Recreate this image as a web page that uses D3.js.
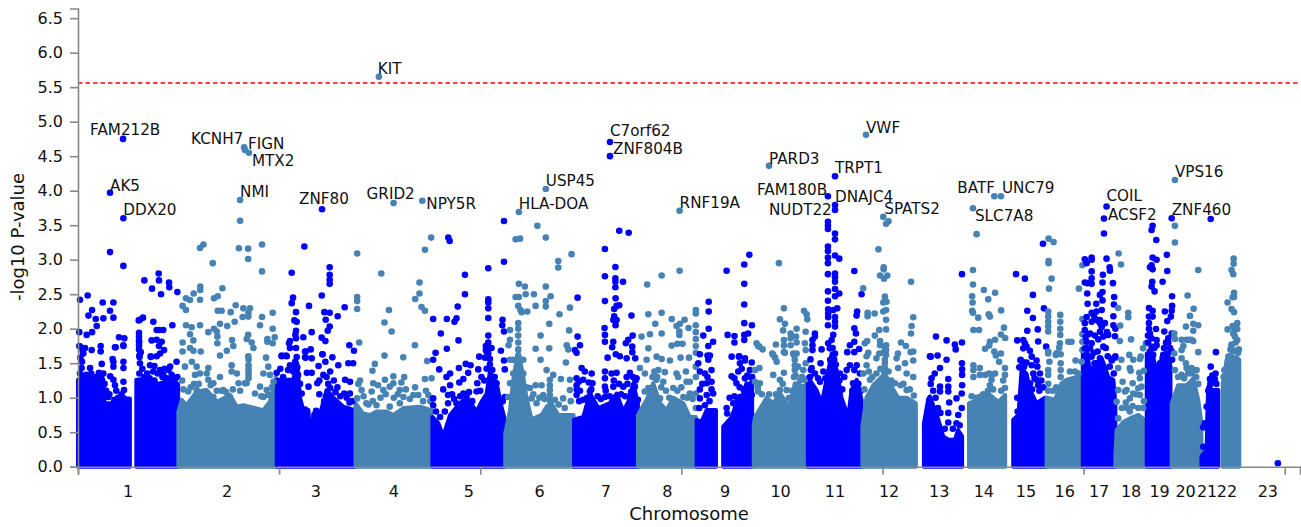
<!DOCTYPE html>
<html>
<head>
<meta charset="utf-8">
<script src="https://cdn.jsdelivr.net/npm/d3@7"></script>
<style>
  body { margin: 0; background: #fff; }
  text { font-family: "DejaVu Sans", sans-serif; fill: #111; }
</style>
</head>
<body>
<svg id="chart"></svg>
<script>
const chrNames = ['1','2','3','4','5','6','7','8','9','10','11','12','13','14','15','16','17','18','19','20','21','22','23'];
// cumulative end of every chromosome, Mb
const chrEnds = [249,492,690,881,1062,1233,1392,1538,1679,1814.5,1949.5,2083.5,2198.5,2305.5,2408,2498,2579,2657,2721,2786,2828,2885,3031];
const xTicks = [0,500,1000,1500,2000,2500,3000];
const yTicks = [0,0.5,1,1.5,2,2.5,3,3.5,4,4.5,5,5.5,6,6.5];
const threshold = 5.56;

// named hits
const geneNames = ['KIT','FAM212B','AK5','DDX20','KCNH7','FIGN','MTX2','NMI','ZNF80','GRID2','NPY5R','USP45','HLA-DOA','C7orf62','ZNF804B','RNF19A','PARD3','TRPT1','FAM180B','DNAJC4','NUDT22','VWF','SPATS2','BATF','UNC79','SLC7A8','COIL','ACSF2','VPS16','ZNF460'];
const genePos = [748,112,79.6,112.8,413,415,425,403,606.6,784.6,856,1163,1096,1322.6,1322.6,1495.6,1718,1882,1864.4,1882,1882,1959,2002,2278,2294.5,2225,2557,2550.6,2727,2719];
const geneP = [5.65,4.75,3.97,3.6,4.63,4.59,4.55,3.865,3.73,3.82,3.855,4.025,3.69,4.705,4.5,3.71,4.36,4.21,3.92,3.79,3.72,4.81,3.62,3.92,3.92,3.745,3.77,3.595,4.155,3.6];
const labelDx = [-1,-33,0,0,-53,3,3,0,-23,-27,4,0,0,0,3,0,0,0,-71,0,-66,0,1,-37,1,2,0,4,0,0];
const labelDy = [-3,-4,-2,-3,-3,-1,13,-3,-5,-4,8,-3,-3,-6,-2,-3,-2,-3,-1,-3,5,-2,-3,-3,-3,13,-6,1,-3,-3];

const chr1Snps = [[79.6,3.11],[112.8,2.91],[5,2.42],[24,2.48],[35,2.27],[26,2.19],[61.4,2.38],[88,2.38],[79.6,2.26],[88,2.16],[63,2.15],[44,2.14],[46.5,2.04],[35,1.95],[21.6,1.91],[3.4,1.95],[3.4,1.75],[17.5,1.72],[11.7,1.67],[34,1.69],[56.4,1.75],[56.4,1.67],[102,1.875],[115.2,1.86],[93.7,1.73],[112.8,1.76],[165,2.7],[200.6,2.8],[201.4,2.7],[184,2.58],[206.4,2.5],[226.3,2.67],[227,2.6],[247,2.53],[161.6,2.16],[151,2.12],[154,2.13],[187.3,2.1],[234.6,2.05],[195.6,1.98],[212,1.98],[202,1.98],[151.7,1.94],[151.7,1.885],[151.7,1.83],[151.7,1.76],[151.7,1.7],[183,1.83],[195.6,1.84],[208,1.81],[201.4,1.75],[214,1.69],[204,1.64],[152.5,1.61],[180.7,1.6],[195.6,1.6],[86,1.56],[5,1.74],[13.3,1.64],[92,1.73],[113,1.75],[9,1.43],[30,1.43],[59,1.49],[88,1.52],[88,1.45],[113,1.52],[113,1.43],[22,1.3],[63,1.35],[80,1.31],[88,1.26],[113,1.23],[92,1.18],[75.5,1.01],[114.4,1.11],[113,0.99],[153,1.59],[154,1.5],[152.5,1.35],[179,1.47],[181,1.59],[245,1.52],[229,1.45],[204,1.4],[187,1.38],[233,1.33],[212,1.33],[167,1.26],[5,1.35],[12,1.3],[20,1.33],[33,1.35],[45,1.3],[52,1.36],[58,1.28],[66,1.2],[70,1.1],[78,1.05],[95,1.1],[100,1],[108,1.05],[152,1.15],[153,1.05],[155,1.25],[160,1.42],[165,1.3],[172,1.35],[178,1.28],[190,1.25],[198,1.35],[210,1.3],[220,1.28],[225,1.4],[240,1.25],[247,1.3],[6,1.58],[10,1.52],[152,1.8],[156,1.66],[190,1.46],[215,1.42]];
const chr2Snps = [[403,3.565],[400,3.165],[423,3.16],[423,3.01],[457.5,3.22],[457.5,2.83],[312,3.22],[303.4,3.17],[335,2.95],[359,2.585],[304,2.61],[304,2.56],[303.4,2.42],[287.6,2.51],[268.5,2.44],[278.5,2.415],[260,2.33],[268.5,2.27],[338,2.44],[347.3,2.47],[392,2.34],[347.3,2.26],[357,2.26],[379.6,2.24],[411,2.295],[427.6,2.295],[423.5,2.23],[409.4,2.17],[423.5,2.175],[457.5,2.17],[484,2.23],[389.5,2.1],[353,2.07],[268.5,2.05],[282.6,2.02],[303.4,2.05],[338,2],[371,2.04],[452.5,2.05],[484,2],[324,1.95],[345,1.96],[278.5,1.92],[346.4,1.885],[423,1.91],[489,1.875],[286.8,1.83],[260,1.8],[383,1.835],[346.4,1.79],[386,1.75],[470.8,1.85],[470.8,1.81],[419.4,1.85],[431.8,1.8],[484,1.79],[436,1.72],[278.5,1.72],[287,1.68],[260,1.67],[305,1.67],[370,1.68],[353,1.61],[423.5,1.6],[467.5,1.58],[473,1.45],[424,1.47],[424,1.38],[424,1.28],[382,1.47],[382,1.38],[395,1.35],[324,1.43],[283,1.52],[295,1.45],[266,1.45],[291,1.33],[303,1.35],[320,1.35],[353,1.3],[324,1.26],[336.5,1.21],[259,1.25],[288.4,1.2],[461,1.35],[477.4,1.33],[399,1.21],[419,1.21],[452.5,1.16],[469,1.11],[486,1.23],[403,1.1],[357,1.1],[262,1.12],[274,1.09],[295,1.11],[316,1.09],[336.5,1.01],[361,1.11],[378,1.01],[415,1.21],[461,1.01],[473,1.04],[280,1.15],[300,1.2],[330,1.18],[345,1.1],[368,1.08],[385,1.12],[440,1.06],[456,1.02],[482,1.15],[424,1.55],[424,1.42],[424,1.33]];
const chr3Snps = [[562.7,3.19],[531.3,2.81],[625.7,2.89],[625.7,2.78],[625.7,2.71],[625.7,2.65],[606,2.48],[534.6,2.45],[531.3,2.37],[574.3,2.33],[542,2.24],[612.5,2.24],[625.7,2.23],[663,2.31],[645.6,2.18],[538,2.12],[543.7,2.1],[615.8,2.13],[625.7,2.03],[620.8,1.97],[542,1.97],[581,1.95],[540.4,1.91],[542,1.86],[560.2,1.875],[605.8,1.87],[615,1.82],[527,1.82],[524.6,1.79],[542,1.72],[578.5,1.7],[564.4,1.67],[527,1.72],[607.5,1.63],[674.6,1.76],[686,1.68],[632.4,1.585],[506.4,1.61],[517,1.61],[543.7,1.59],[564.4,1.585],[581,1.57],[506.4,1.6],[519,1.6],[566,1.67],[566,1.58],[608,1.63],[615,1.52],[598,1.46],[647,1.47],[684,1.5],[672,1.5],[527,1.47],[569,1.36],[581,1.36],[494,1.36],[610,1.33],[627,1.38],[510,1.3],[573,1.16],[595,1.21],[664,1.26],[627,1.14],[676.3,1.23],[662,1.06],[676,1.06],[675,0.93],[592,0.81],[564.4,0.83],[581,0.46],[540,1.52],[545,1.44],[535,1.38],[547,1.33],[522,1.4],[503,1.42],[552,1.2],[556,1.06],[538,1.45],[600,1.25],[618,1.3],[622,1.2],[636,1.25],[645,1.15],[652,1.02],[600,1.05],[612,0.95],[640,1.08],[668,1],[682,0.95]];
const chr4Snps = [[878,3.32],[862.5,3.145],[694,3.09],[754,2.8],[849,2.67],[849,2.51],[838.4,2.43],[694,2.46],[694,2.4],[694,2.285],[773,2.27],[854,2.315],[862.5,2.26],[762,2.09],[779.6,1.96],[699,1.8],[837.6,1.76],[762,1.61],[808.6,1.585],[868,1.53],[738,1.49],[732,1.39],[784,1.31],[811,1.3],[879,1.28],[862.5,1.27],[763,1.26],[701,1.25],[734,1.21],[784,1.21],[804,1.22],[746,1.18],[838,1.15],[705,1.11],[775,1.16],[800,1.11],[730,1.09],[759,1.11],[833.5,1.04],[846,1.04],[871,1.04],[809,1.01],[694,0.99],[717,0.92],[742,0.89],[775,0.87],[800,0.92],[697,1.2],[710,1.02],[722,0.9],[733,0.95],[752,1],[765,1.05],[785,1],[795,1.05],[815,1.12],[825,0.98],[858,0.95],[865,1.1],[876,0.95]];
const chr5Snps = [[920.5,3.32],[924,3.27],[962,2.78],[962,2.5],[944,2.32],[883,2.14],[917,2.14],[941,2.15],[936,2.1],[902,1.93],[946,1.83],[917,1.71],[889,1.65],[883,1.55],[1020,2.875],[1059,2.97],[1059,3.56],[1020,2.425],[1020,2.38],[1020,2.295],[1020,2.155],[1055.5,2.13],[1054.7,2.05],[1059,1.96],[1020,1.9],[1020,1.8],[1014,1.75],[1028,1.72],[1014,1.69],[1051.4,1.68],[997.5,1.595],[1012,1.58],[1020,1.64],[1016,1.67],[1024,1.56],[1059,1.54],[1061,1.41],[898,1.41],[947,1.43],[964,1.49],[976,1.47],[970,1.36],[995,1.41],[1003,1.3],[925,1.35],[916,1.3],[958,1.27],[948,1.22],[992.6,1.21],[925,1.18],[908,1.12],[920,1.04],[991,1.09],[966,1.01],[941,0.92],[883,0.99],[883,0.89],[920,0.92],[1040.6,1.21],[1040.6,1.11],[1061,1.01],[1024,1.48],[1030,1.4],[1036,1.3],[1016,1.42],[1010,1.25],[1000,1.1],[1045,1.0],[1056,0.95],[950,1.02],[958,1.06],[972,1.08],[980,0.95],[935,0.98],[912,0.8],[930,1.05],[890,0.8],[900,0.72]];
const chr6Snps = [[1142,3.49],[1088,3.295],[1099,3.305],[1163,3.32],[1227,3.08],[1194,2.98],[1194,2.885],[1096,2.65],[1111,2.61],[1163,2.61],[1113,2.5],[1133.4,2.5],[1088,2.46],[1096,2.46],[1175,2.47],[1163,2.4],[1094.5,2.33],[1137.6,2.33],[1163,2.32],[1223,2.305],[1100,2.27],[1103,2.24],[1117,2.25],[1197,2.21],[1171.6,2.07],[1094.5,2.08],[1094.5,2],[1094.5,1.9],[1094.5,1.8],[1094.5,1.7],[1094.5,1.6],[1074,1.98],[1074,1.84],[1070.5,1.76],[1221,1.975],[1150,1.9],[1215,1.76],[1219,1.7],[1137.6,1.71],[1171.6,1.715],[1150,1.55],[1213,1.51],[1165,1.4],[1181.5,1.33],[1200.6,1.27],[1223,1.26],[1137.6,1.18],[1152.5,1.18],[1173,1.26],[1173,1.11],[1123.5,1.14],[1156.6,1.04],[1107,1.55],[1107,1.35],[1082,1.35],[1074,1.21],[1223,1.11],[1185.6,0.97],[1206,0.99],[1127.6,0.99],[1082,1.55],[1074,1.55],[1069.6,1.01],[1140,0.92],[1173,1.18],[1173,1.04],[1173,0.96],[1160,0.98],[1147,1],[1132,1.05],[1115,1.15],[1195,0.9],[1210,0.85],[1225,0.95]];
const chr7Snps = [[1345.6,3.42],[1369,3.39],[1310,3.155],[1336,2.895],[1310,2.76],[1336,2.73],[1336,2.68],[1336,2.6],[1355,2.68],[1310,2.4],[1336.5,2.44],[1345.6,2.34],[1339,2.33],[1333,2.285],[1376,2.19],[1333,2.18],[1331,2.125],[1339,2.125],[1336.5,2.05],[1309,2.01],[1310,1.91],[1310,1.81],[1379,1.9],[1368,1.84],[1362,1.79],[1330.7,1.81],[1328,1.73],[1378,1.74],[1378,1.66],[1242,2.45],[1242,1.885],[1248,1.76],[1235.4,1.69],[1239.5,1.65],[1316.6,1.58],[1337,1.63],[1347,1.6],[1364,1.57],[1385.4,1.57],[1252,1.43],[1260,1.38],[1277,1.35],[1310,1.38],[1326.5,1.35],[1339,1.36],[1364,1.3],[1388.7,1.28],[1239.5,1.28],[1256,1.26],[1279,1.21],[1310,1.28],[1310,1.16],[1239.5,1.18],[1272.7,1.09],[1239.5,1.04],[1330.7,1.16],[1310,1.01],[1355.5,1.16],[1384.5,1.16],[1392,0.97],[1256,0.97],[1285,0.87],[1240,1.12],[1245,1.23],[1248,1.1],[1246,0.95],[1270,1.22],[1276,1.12],[1266,1],[1300,0.98],[1312,1.1],[1322,1.02],[1332,1.25],[1345,1.2],[1350,1.05],[1366,1.2],[1372,1.36],[1380,1.3],[1386,1.25],[1375,1.08],[1360,1.02],[1292,1.02]];
const chr8Snps = [[1495.6,2.84],[1451,2.77],[1415,2.64],[1418,2.21],[1451,2.23],[1476,2.14],[1508,2.13],[1536,2.27],[1536,2.22],[1435,2.07],[1488,2.04],[1496.4,2.07],[1518,2.01],[1536,2.05],[1536,1.95],[1536,1.85],[1536,1.75],[1536,1.65],[1401,1.885],[1422,1.92],[1451,1.93],[1495,1.96],[1495,1.91],[1476,1.755],[1490,1.78],[1503,1.78],[1418,1.715],[1438.4,1.595],[1498,1.58],[1519,1.58],[1451,1.56],[1471.6,1.54],[1413.6,1.55],[1397,1.43],[1409.4,1.35],[1442.6,1.4],[1459,1.37],[1488,1.35],[1511.4,1.38],[1513,1.23],[1521,1.23],[1492,1.3],[1455,1.23],[1480,1.14],[1438,1.26],[1418,1.14],[1409,1.09],[1521,1.06],[1536,1.06],[1505,1.01],[1447,0.99],[1428,1.3],[1433,1.38],[1440,1.3],[1450,1.15],[1462,1.1],[1470,1.0],[1490,1.1],[1500,1.15],[1514,1.0],[1528,0.98],[1536,0.85],[1536,1.45],[1536,1.3]];
const chr9Snps = [[1568,2.39],[1568,2.25],[1568,2],[1554.5,1.9],[1579,1.81],[1567,1.75],[1546,1.63],[1565,1.61],[1571,1.61],[1612.5,2.84],[1656.4,2.93],[1669,3.07],[1656.4,2.65],[1656.4,2.35],[1656.4,2.08],[1675.4,2.05],[1666,1.93],[1656.4,1.91],[1656.4,1.835],[1615,1.91],[1632,1.895],[1632,1.8],[1625,1.595],[1643,1.595],[1658,1.57],[1542,1.5],[1567,1.55],[1546,1.38],[1575,1.4],[1558.6,1.35],[1575,1.23],[1563,1.21],[1579,1.06],[1563,1.04],[1546,0.99],[1558.6,0.89],[1544.5,0.85],[1644,1.6],[1645.6,1.5],[1658,1.54],[1675,1.51],[1641.5,1.38],[1625,1.31],[1670.5,1.4],[1658,1.28],[1637,1.21],[1675,1.21],[1629,0.92],[1612.5,0.85],[1614,0.77],[1645.6,1.01],[1675,1.04],[1575,1.12],[1565,1.3],[1546,1.12],[1552,1.2],[1570,0.95],[1650,1.42],[1664,1.32],[1672,1.3],[1632,1.28],[1645,1.15],[1655,1.12],[1620,1],[1632,1.02],[1640,0.98],[1676,1.3]];
const chr10Snps = [[1742.6,2.95],[1755,2.295],[1745,2.135],[1757.5,2.07],[1753,1.975],[1786.5,2],[1771.6,1.93],[1771.6,1.86],[1771.6,1.76],[1785,1.885],[1786.5,1.8],[1809,1.955],[1805,2.26],[1811.4,2.21],[1813,2.135],[1735,1.77],[1755,1.835],[1755,1.755],[1755,1.66],[1687,1.79],[1693.7,1.74],[1702,1.7],[1807,1.79],[1809,1.69],[1778,1.64],[1786.5,1.64],[1726,1.64],[1733,1.58],[1691,1.75],[1728.5,1.62],[1737,1.52],[1757.5,1.65],[1780,1.62],[1782,1.47],[1755,1.36],[1728.5,1.33],[1683,1.4],[1694,1.43],[1695,1.21],[1683,1.23],[1691,1.09],[1745,1.26],[1745,1.11],[1780,1.3],[1803,1.4],[1809,1.5],[1807,1.26],[1761.6,1.11],[1782,1.55],[1782,1.4],[1784,1.32],[1690,1.15],[1700,1.05],[1718,1.05],[1735,1.05],[1752,1.2],[1768,1],[1775,1.1],[1795,1.25],[1800,1.3],[1790,1.45]];
const chr11Snps = [[1864.4,3.55],[1864.4,3.49],[1864.4,3.445],[1882,3.38],[1882,3.295],[1864.4,3.19],[1864.4,3.125],[1864.4,3.03],[1864.4,2.95],[1882,3.06],[1892.6,3.015],[1930,2.835],[1864.4,2.79],[1882,2.8],[1882,2.745],[1882,2.68],[1864.4,2.54],[1864.4,2.405],[1882,2.575],[1892.6,2.51],[1882,2.47],[1948,2.5],[1937,2.25],[1935.6,2.19],[1865,2.28],[1865,2.22],[1865,2.165],[1877.6,2.27],[1887.6,2.295],[1882,2.17],[1882,2.1],[1882,2.03],[1864.4,2.05],[1930,2.005],[1934,1.93],[1832,1.93],[1832,1.885],[1826,1.835],[1826,1.76],[1826,1.69],[1877.6,1.91],[1873.5,1.835],[1865,1.79],[1869,1.715],[1848.6,1.7],[1919,1.76],[1930,1.81],[1912.5,1.66],[1930,1.66],[1942,1.705],[1882,1.64],[1821,1.555],[1846,1.5],[1824,1.43],[1873.5,1.45],[1919,1.47],[1936,1.47],[1853,1.38],[1894,1.35],[1911,1.4],[1944,1.35],[1877.6,1.6],[1865,1.33],[1820,1.3],[1927,1.21],[1844.5,1.23],[1880,1.55],[1884,1.48],[1870,1.55],[1876,1.72],[1832,1.35],[1840,1.28],[1822,1.4],[1858,1.28],[1893,1.25],[1900,1.12],[1905,1.3],[1930,1.4],[1940,1.2],[1946,1.1],[1925,1.1]];
const chr12Snps = [[2015,3.556],[2009,3.52],[1990,3.15],[2003,2.89],[2003,2.86],[1994,2.77],[2012,2.77],[2004,2.725],[2071,2.68],[1952,2.585],[2006,2.465],[2006,2.405],[2002,2.38],[2010,2.39],[2002,2.25],[2009,2.27],[1963,2.23],[1963,2.18],[1980.4,2.22],[2009,2.13],[2076.5,2.165],[2072.4,2.04],[2071,1.93],[1992,1.98],[2009,1.99],[1981,1.9],[1994,1.82],[2009,1.76],[2009,1.69],[1994,1.76],[1956,1.79],[1962,1.82],[2046,1.8],[2058.3,1.75],[2076.5,1.67],[2070,1.66],[2038.4,1.64],[1964.7,1.65],[1960.5,1.6],[1992,1.64],[2009,1.62],[2006,1.55],[2006,1.43],[1960.5,1.47],[1985,1.57],[2035,1.57],[2056,1.5],[2076.5,1.54],[2039,1.43],[2060,1.35],[2076.5,1.3],[1952,1.35],[1969,1.26],[2031,1.21],[2060,1.11],[2006,1.5],[2004,1.38],[2002,1.65],[2006,1.72],[1966,1.38],[1975,1.3],[1985,1.35],[1995,1.42],[2015,1.38],[2022,1.25],[2045,1.18],[2052,1.2],[2068,1.12],[2078,1.03],[1955,1.12]];
const chr13Snps = [[2133,1.885],[2137,1.61],[2118,1.6],[2197.6,2.79],[2159.4,1.83],[2180,1.77],[2182,1.7],[2197.6,1.8],[2120,1.595],[2159.4,1.55],[2197.6,1.5],[2198,1.41],[2198,1.33],[2143,1.43],[2130,1.35],[2122,1.28],[2163.6,1.27],[2143,1.16],[2143,1.09],[2163.6,1.16],[2163.6,1.09],[2198,1.18],[2197,1.06],[2184,0.99],[2166,0.93],[2163.6,0.78],[2163.6,0.64],[2197,0.85],[2188.4,0.75],[2184,0.63],[2120,1.2],[2126,1.1],[2132,1.0],[2138,0.85],[2144,0.78],[2175,0.55],[2192,0.6],[2155,0.55]];
const chr14Snps = [[2234,3.37],[2225,2.85],[2225,2.64],[2223,2.47],[2224,2.38],[2223,2.26],[2225,2.23],[2252,2.56],[2280,2.52],[2263,2.425],[2295,2.265],[2238,2.16],[2264,2.21],[2267,2.175],[2302,2.015],[2226,1.98],[2240,1.98],[2294.5,1.915],[2305,1.865],[2280,1.84],[2267,1.81],[2265.5,1.755],[2255,1.71],[2278,1.67],[2282,1.61],[2294.5,1.64],[2290,1.52],[2226,1.47],[2226,1.4],[2226,1.3],[2242,1.43],[2242,1.33],[2255,1.33],[2280,1.35],[2304.5,1.43],[2304.5,1.33],[2271,1.26],[2267,1.18],[2304.5,1.14],[2242,1.01],[2221.6,1.02],[2265,1.35],[2272,1.33],[2262,1.1],[2275,1.12],[2300,1.25],[2295,1.1],[2250,1.05],[2232,1]];
const chr15Snps = [[2332,2.79],[2354,2.725],[2399,3.23],[2374,2.49],[2401.4,2.295],[2360,2.26],[2374,2.155],[2360,1.97],[2386,1.99],[2335,1.83],[2350,1.835],[2354,1.79],[2358,1.74],[2366.6,1.68],[2350,1.715],[2387,1.815],[2407,1.74],[2371,1.595],[2343.4,1.55],[2343.4,1.54],[2358,1.51],[2371,1.47],[2383,1.54],[2385,1.45],[2340,1.44],[2391.5,1.35],[2375,1.35],[2335,1],[2383,1.26],[2387,1.18],[2367,1.21],[2336,0.8],[2348,1.52],[2352,1.45],[2378,1.28],[2390,1.1],[2395,1.25],[2400,1.15],[2372,1.12]];
const chr16Snps = [[2413,3.305],[2425.4,3.255],[2413,2.98],[2413,2.95],[2420.5,2.725],[2414,2.58],[2412,2.25],[2412,2.175],[2412,2.1],[2412,2.03],[2412,1.96],[2442,2.2],[2442,2.1],[2442,2],[2442,1.91],[2441,1.79],[2439.5,1.725],[2462,1.81],[2470,1.81],[2412,1.67],[2433,1.645],[2443,1.63],[2488.4,2.58],[2497,2.92],[2497,2.14],[2497,1.92],[2497,1.81],[2497,1.69],[2412,1.64],[2415,1.52],[2431,1.62],[2480,1.54],[2412,1.4],[2412,1.33],[2443,1.5],[2443,1.3],[2466,1.38],[2478.5,1.38],[2487,1.35],[2495,1.52],[2412,1.2],[2412,1.1],[2443,1.4],[2432,1.15],[2424,1.1]];
const chr17Snps = [[2550.6,3.38],[2557,3.015],[2503,3.005],[2507.5,2.95],[2520,3.03],[2520,3],[2520,2.83],[2564.7,2.89],[2565.5,2.84],[2548,2.78],[2520,2.73],[2503,2.67],[2510,2.66],[2520,2.65],[2547,2.67],[2573,2.66],[2509,2.51],[2547,2.53],[2540.6,2.49],[2576,2.46],[2547,2.41],[2510,2.36],[2531.5,2.36],[2575.4,2.35],[2520,2.23],[2532,2.25],[2545,2.27],[2507.5,2.17],[2528,2.15],[2540.6,2.125],[2574,2.18],[2503,2.08],[2520,2.1],[2553,2.08],[2540.6,2.08],[2574,2.05],[2503,1.98],[2516,1.93],[2540.6,1.955],[2579,2],[2561,1.91],[2578,1.89],[2536.5,1.845],[2549,1.885],[2507.5,1.81],[2520,1.79],[2503,1.715],[2516,1.715],[2549,1.74],[2535,1.67],[2507.5,1.62],[2520,1.595],[2569.6,1.56],[2578,1.58],[2540.6,1.57],[2532.4,1.5],[2570,1.54],[2579,1.6],[2525,2.2],[2535,2.12],[2545,2.02],[2558,1.95],[2528,1.9],[2505,1.88],[2512,1.92],[2560,1.6],[2565,1.45],[2575,1.35],[2555,1.72],[2525,1.65],[2527,1.5],[2522,1.42]];
const chr18Snps = [[2587,3.09],[2593,2.93],[2586,2.3],[2611,2.23],[2611,2.165],[2591,2.045],[2590,1.82],[2618,1.845],[2613.6,1.62],[2655,1.79],[2648,1.715],[2642,1.595],[2594,1.55],[2623.5,1.55],[2640,1.56],[2586,1.43],[2615,1.43],[2617,1.39],[2638.4,1.36],[2650,1.39],[2640,1.28],[2597,1.23],[2586,1.11],[2622,1.21],[2636,1.136],[2644,1.16],[2607,1.11],[2603,1.09],[2623.5,1.06],[2615,0.99],[2605,0.93],[2640,1.04],[2582,0.94],[2615,0.8],[2636,0.85],[2648,0.85],[2586,0.7],[2630,1.05],[2650,0.95],[2595,0.85],[2622,0.88],[2608,0.85]];
const chr19Snps = [[2671.6,3.49],[2669,3.43],[2680.7,3.285],[2671.6,3.03],[2681.5,3],[2669,2.92],[2665,2.89],[2671.6,2.86],[2670.7,2.68],[2669,2.61],[2676.5,2.54],[2662.5,2.3],[2671.6,2.26],[2662.5,2.175],[2671.6,2.175],[2662.5,2.08],[2662.5,2],[2680,1.995],[2665,1.93],[2669,1.86],[2681.5,1.835],[2681.5,1.76],[2669,1.74],[2665,1.67],[2673,1.62],[2707,3.07],[2708,2.835],[2696.4,2.68],[2720,2.47],[2720,2.33],[2719,2.26],[2702,2.25],[2717,2.175],[2708,2.11],[2700.6,1.96],[2719,1.93],[2710.5,1.86],[2710.5,1.8],[2708,1.64],[2698,1.62],[2719,1.67],[2660,1.8],[2676,1.72],[2660,1.9],[2700,1.72],[2705,1.8],[2715,1.72],[2720,1.55],[2680,1.45],[2690,1.5],[2683,1.32]];
const chr20Snps = [[2727,3.49],[2727,3.25],[2785,2.85],[2758.6,2.48],[2773.5,2.29],[2764.4,2.185],[2772.7,2.07],[2785,2.05],[2754.4,2.03],[2772.7,1.97],[2725.4,1.93],[2727,1.85],[2743.7,1.84],[2756,1.84],[2772.7,1.82],[2743.7,1.69],[2785,1.66],[2725.4,1.64],[2743.7,1.57],[2754.4,1.5],[2727,1.4],[2743.7,1.33],[2756,1.43],[2768.5,1.43],[2781,1.4],[2748,1.75],[2762,1.84],[2768,1.84],[2750,1.28],[2760,1.35],[2770,1.35],[2780,1.3],[2735,1.3],[2785,1.2]];
const chr21Snps = [[2816,3.59],[2829,1.66],[2816,1.45],[2828,1.35],[2814,1.27],[2826.5,1.27],[2801.7,0.63],[2797.5,0.57],[2797.5,0.29],[2806,0.87],[2815,1.2],[2820,1.32],[2830,1.2],[2810,1.1]];
const chr22Snps = [[2873,3.015],[2873,2.94],[2868,2.85],[2872,2.79],[2874,2.52],[2874,2.46],[2870.5,2.455],[2858,2.38],[2868,2.285],[2874,2.24],[2882,2.08],[2870.5,2.04],[2876,2.03],[2858,1.99],[2882,1.995],[2872,1.93],[2876,1.885],[2882,1.835],[2868,1.77],[2876,1.68],[2860,1.595],[2880,1.56],[2868,1.76],[2864,1.6],[2875,1.97],[2878,1.8],[2870,1.68],[2865,1.7],[2884,1.65],[2850,1.4],[2848,1.3],[2886,1.7]];
const chr23Snps = [[2983,0.05]];
const chrSnps = [chr1Snps,chr2Snps,chr3Snps,chr4Snps,chr5Snps,chr6Snps,chr7Snps,chr8Snps,chr9Snps,chr10Snps,chr11Snps,chr12Snps,chr13Snps,chr14Snps,chr15Snps,chr16Snps,chr17Snps,chr18Snps,chr19Snps,chr20Snps,chr21Snps,chr22Snps,chr23Snps];

// top of the solid band of overplotted SNPs, null = no SNPs there
const chr1Band = [[0,1.26],[30,1.3],[63,1.26],[66,0.92],[85,0.92],[88,0.99],[113,0.99],[129,0.99],[134,null],[140,null],[145,1.26],[170,1.26],[200,1.2],[230,1.26],[249,1.2]];
const chr2Band = [[249.5,0.8],[258,0.97],[270,0.89],[295,1.09],[320,1.11],[345,0.94],[378,1.04],[395,0.87],[411,0.89],[461,0.82],[477.4,0.95],[492,1.3]];
const chr3Band = [[494,1.26],[535,1.26],[545,1.5],[552,1.0],[560,0.82],[573,0.82],[577,0.24],[585,0.77],[602,0.77],[618,1.11],[635,1],[660,0.87],[688,0.82]];
const chr4Band = [[690,0.92],[709,0.77],[726,0.75],[742,0.8],[767,0.8],[784,0.75],[809,0.85],[850,0.87],[879,0.82]];
const chr5Band = [[881,0.72],[896,0.63],[908,0.44],[925,0.75],[949,0.92],[966,1],[991,0.8],[1003,0.94],[1016,1.06],[1024,1.38],[1040.6,1.21],[1053,0.87],[1061,0.68]];
const chr6Band = [[1062,0.48],[1074,0.82],[1082,1.26],[1094.5,1.69],[1107,1.3],[1115,1],[1127.6,0.68],[1140,0.72],[1152.5,0.75],[1165,0.87],[1177,0.92],[1194,0.75],[1232,0.75]];
const chr7Band = [[1233,0.68],[1256,0.72],[1272.7,1.06],[1293.4,0.85],[1322,0.92],[1339,1.06],[1355.5,0.8],[1368,0.94],[1380.4,1.21],[1392,0.92]];
const chr8Band = [[1392,0.75],[1413.6,0.97],[1430,1.21],[1447,0.92],[1463,0.82],[1480,1],[1505,0.92],[1521,0.72],[1536,0.72]];
const chr9Band = [[1538,0.68],[1550,0.65],[1563,0.82],[1586,0.82],[1590,null],[1600,null],[1604,0.58],[1625,0.72],[1637,0.92],[1645.6,0.92],[1662,1.21],[1676,1.16]];
const chr10Band = [[1680,0.6],[1683,0.72],[1712,1],[1728.5,0.92],[1745,1.06],[1770,0.87],[1782,1.21],[1803,1.16],[1813,1.21]];
const chr11Band = [[1814.5,1.3],[1836,1.11],[1849,0.92],[1861,1.26],[1873.5,1.64],[1886,1.4],[1898,1],[1915,0.72],[1923,1.11],[1936,1.26],[1948,0.97]];
const chr12Band = [[1950,0.58],[1960,1],[1977,1.18],[2006,1.35],[2018,1.21],[2039,1],[2060,1],[2083,0.92]];
const chr13Band = [[2103,0.63],[2114,0.99],[2118,1.02],[2139,0.68],[2151,0.44],[2164,0.39],[2180,0.39],[2188,0.53],[2198,0.44]];
const chr14Band = [[2215,0.92],[2242,0.97],[2263,1.06],[2288,0.94],[2305,1.04]];
const chr15Band = [[2325,0.68],[2338,0.75],[2346,1.42],[2358,1.35],[2367,1.11],[2383,0.92],[2404,1],[2408,1]];
const chr16Band = [[2408,1],[2429,0.97],[2445,1.21],[2458,1.26],[2483,1.3],[2497,1.35]];
const chr17Band = [[2498,1.69],[2507.5,1.74],[2516,1.35],[2532,1.47],[2545,1.57],[2553,1.45],[2561,1.3],[2574,1.26],[2579,0.92]];
const chr18Band = [[2579,0.15],[2582,0.53],[2599,0.65],[2615,0.7],[2636,0.75],[2652,0.68]];
const chr19Band = [[2657,1.64],[2673,1.6],[2686,1.21],[2694,1.6],[2710,1.64],[2716,1.45]];
const chr20Band = [[2719,0.92],[2735,1.18],[2756,1.18],[2772.7,1.28],[2785,0.97],[2793,0.63]];
const chr21Band = [[2793,0.15],[2806,0.25],[2808,0.85],[2810,1.16],[2822,1.11],[2835,1.11]];
const chr22Band = [[2846,1.2],[2855.5,1.55],[2872,1.6],[2887,1.55]];
const chrBands = [chr1Band,chr2Band,chr3Band,chr4Band,chr5Band,chr6Band,chr7Band,chr8Band,chr9Band,chr10Band,chr11Band,chr12Band,chr13Band,chr14Band,chr15Band,chr16Band,chr17Band,chr18Band,chr19Band,chr20Band,chr21Band,chr22Band];

const width = 1301;
const height = 527;
const colors = ['#0000ff', '#4682b4'];
const axisGrey = '#888';
const dotRadius = 3.3;

const svg = d3.select('#chart').attr('width', width).attr('height', height).style('display', 'block');
const x = d3.scaleLinear().domain([0, 3038]).range([78, 1300]);
const y = d3.scaleLinear().domain([0, 6.64]).range([466.7, 8.5]);

const chrColor = pos => colors[d3.bisectLeft(chrEnds, pos) % 2];

// solid bands first
const band = d3.area()
    .defined(d => d[1] !== null)
    .x(d => x(d[0]))
    .y0(y(0))
    .y1(d => y(d[1]));

svg.append('g').selectAll('path')
    .data(chrBands)
    .enter().append('path')
    .attr('d', band)
    .attr('fill', (d, i) => colors[i % 2])
    .attr('stroke', (d, i) => colors[i % 2])
    .attr('stroke-width', 4)
    .attr('stroke-linejoin', 'round');

chrSnps.forEach((snps, i) => {
    svg.append('g').selectAll('circle')
        .data(snps)
        .enter().append('circle')
        .attr('cx', d => x(d[0]))
        .attr('cy', d => y(d[1]))
        .attr('r', dotRadius)
        .attr('fill', colors[i % 2]);
});

svg.append('g').selectAll('circle')
    .data(geneNames)
    .enter().append('circle')
    .attr('cx', (d, i) => x(genePos[i]))
    .attr('cy', (d, i) => y(geneP[i]))
    .attr('r', dotRadius)
    .attr('fill', (d, i) => chrColor(genePos[i]));

svg.append('line')
    .attr('x1', x(0)).attr('x2', x(3038))
    .attr('y1', y(threshold)).attr('y2', y(threshold))
    .attr('stroke', '#f00')
    .attr('stroke-width', 1.5)
    .attr('stroke-dasharray', '4.5,3');

svg.append('g').selectAll('text')
    .data(geneNames)
    .enter().append('text')
    .attr('x', (d, i) => x(genePos[i]) + labelDx[i])
    .attr('y', (d, i) => y(geneP[i]) + labelDy[i])
    .style('font-size', '15.2px')
    .text(d => d);

// axes
const yAxis = svg.append('g')
    .attr('transform', `translate(${x(0)},0)`)
    .call(d3.axisLeft(y).tickValues(yTicks).tickFormat(d3.format('.1f')).tickSize(8).tickPadding(7));
const xAxis = svg.append('g')
    .attr('transform', `translate(0,${y(0)})`)
    .call(d3.axisBottom(x).tickValues(xTicks).tickFormat('').tickSize(8));

[yAxis, xAxis].forEach(a => {
    a.selectAll('.domain').attr('stroke', axisGrey).attr('stroke-width', 1.6);
    a.selectAll('.tick line').attr('stroke', axisGrey).attr('stroke-width', 1.6);
});
yAxis.selectAll('.tick text').style('font-size', '16px').attr('fill', '#111');

svg.append('g').selectAll('text')
    .data(chrNames)
    .enter().append('text')
    .attr('x', (d, i) => x(((i ? chrEnds[i - 1] : 0) + chrEnds[i]) / 2))
    .attr('y', 497)
    .attr('text-anchor', 'middle')
    .style('font-size', '16px')
    .text(d => d);

svg.append('text')
    .attr('x', 689).attr('y', 520)
    .attr('text-anchor', 'middle')
    .style('font-size', '18px')
    .text('Chromosome');

svg.append('text')
    .attr('transform', 'translate(24,237) rotate(-90)')
    .attr('text-anchor', 'middle')
    .style('font-size', '18px')
    .text('-log10 P-value');
</script>
</body>
</html>
